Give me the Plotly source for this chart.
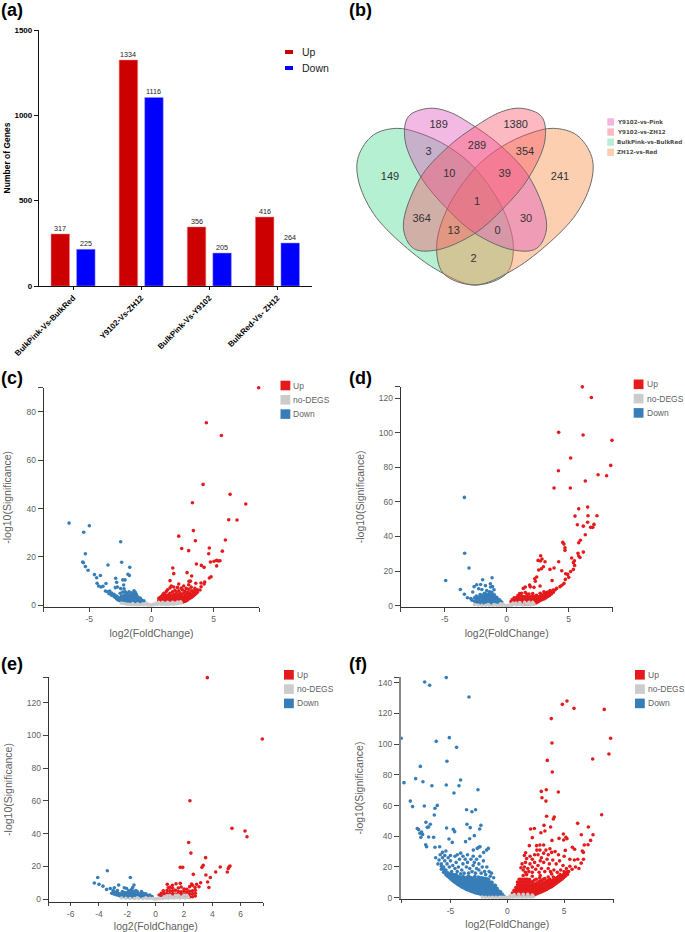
import plotly.graph_objects as go

# ---------- (a) bar chart ----------
bar_categories = ["BulkPink-Vs-BulkRed", "Y9102-Vs-ZH12", "BulkPink-Vs-Y9102", "BulkRed-Vs- ZH12"]
bar_up = [305, 1324, 346, 404]
bar_down = [215, 1105, 193, 252]
bar_up_labels = ["317", "1334", "356", "416"]
bar_down_labels = ["225", "1116", "205", "264"]

# ---------- (b) venn ----------
venn_green_x = [170, 240, 325, 405, 490, 520, 500, 405, 300, 190, 100, 55, 55, 100, 170]
venn_green_y = [385, 400, 440, 505, 630, 740, 820, 855, 815, 735, 640, 540, 470, 405, 385]
venn_orange_x = [640, 570, 485, 405, 320, 290, 310, 405, 510, 620, 710, 755, 755, 710, 640]
venn_orange_y = [385, 400, 440, 505, 630, 740, 820, 855, 815, 735, 640, 540, 470, 405, 385]
venn_pink_x = [265, 325, 405, 485, 570, 620, 590, 520, 405, 320, 245, 195, 205, 265]
venn_pink_y = [325, 335, 380, 440, 535, 680, 745, 750, 700, 625, 535, 420, 350, 325]
venn_rose_x = [545, 485, 405, 325, 240, 190, 220, 290, 405, 490, 565, 615, 605, 545]
venn_rose_y = [325, 335, 380, 440, 535, 680, 745, 750, 700, 625, 535, 420, 350, 325]
venn_numbers = ["189", "1380", "3", "289", "354", "149", "10", "39", "241", "1", "364", "30", "13", "0", "2"]
venn_num_x = [296, 527, 266, 411, 555, 150, 328, 494, 660, 411, 245, 558, 341, 473, 401]
venn_num_y = [375, 375, 457, 438, 456, 531, 524, 523, 532, 606, 657, 657, 695, 695, 777]
venn_names = ["Y9102-vs-Pink", "Y9102-vs-ZH12", "BulkPink-vs-BulkRed", "ZH12-vs-Red"]

# ---------- (c) ----------
c_up = [(8.63,90),(4.42,75.5),(5.63,70.2),(4.16,50),(6.33,45.9),(7.59,41.9),(3.3,42.4),(6.22,35.4),(6.89,35.3),(3.38,30.9),
 (2.2,28.6),(3.54,26.7),(5.95,27),(4.66,23.7),(2.44,23.5),(3.0,22.6),(5.71,22.4),(4.61,21.3),(5.25,18.6),(5.39,18.3),(5.52,18.4),
 (5.04,18.2),(4.75,17.9),(3.62,17.1),(4.02,16.5),(4.24,15.7),(5.25,16.3),(1.72,15.4),(1.8,13.1),(2.87,13.5),(3.24,12.1),(4.8,11.8),
 (4.66,11.3),(1.5,10.2),(3.03,9.9),(3.14,10),(4.29,9.6),(3.99,9.2),(4.24,8.8),(3.57,9.1),(2.2,8.8),(4.0,7.7),(3.91,6.3)]
c_up_cols = {0.6:[2.0,2.9],0.7:[1.9,3.2],0.8:[1.6,2.5,3.6],0.9:[1.4,2.2,3.1,4.2],1.0:[1.2,2.0,2.9,3.8,5.0],1.1:[1.1,1.9,2.7,3.5,4.6],
 1.2:[1.0,1.7,2.4,3.2,5.7],1.3:[1.2,2.1,3.0,3.9,6.4],1.4:[1.0,1.8,2.7,4.4],1.5:[1.3,2.2,3.3,5.0,7.2],1.6:[1.0,1.9,2.8,3.9,8.0],
 1.7:[1.2,2.4,3.4,5.6],1.8:[1.0,1.8,2.9,4.5,7.6],1.9:[1.3,2.2,3.7,6.2],2.0:[1.0,1.9,2.8,4.0,5.3],2.1:[1.2,2.3,3.3,7.4],
 2.2:[1.1,1.8,2.9,4.4,6.0],2.3:[1.3,2.4,3.6,5.2],2.4:[1.2,1.9,3.0,4.6,7.1],2.5:[1.4,2.5,3.5,6.4],2.6:[1.5,2.2,3.2,5.0,8.0],
 2.7:[1.7,2.7,3.9,5.8],2.8:[1.9,2.9,4.4,7.0],2.9:[2.2,3.1,4.0,5.4],3.0:[2.6,3.4,4.8,6.6,8.5],3.1:[2.9,3.7,5.1],3.2:[3.2,4.2,5.9,7.5],
 3.3:[3.6,4.6,6.0],3.4:[4.0,5.0],3.5:[4.5,5.6,7.0],3.6:[4.9,5.9],3.7:[5.4,6.4]}
c_down = [(-6.62,34),(-4.99,32.9),(-5.44,30.2),(-2.47,26.3),(-5.31,21.3),(-5.52,17.9),(-5.47,17.6),(-2.39,17.8),(-3.49,16.7),(-1.74,15.7),
 (-5.31,16),(-5.09,14.5),(-4.58,12.7),(-4.1,12.3),(-4.4,11.4),(-1.88,12.8),(-1.77,12.3),(-2.87,11.2),(-2.3,10.5),(-2.12,10.5),(-2.79,9.5),
 (-4.37,9.1),(-3.65,9),(-2.23,8.4),(-4.24,8),(-4.05,7.6),(-3.89,7.9),(-2.9,7.3),(-2.73,7.6),(-2.47,6.9),(-2.2,6.8),(-3.7,5.9),(-3.55,5.6),(-3.35,5.9),(-3.2,5.1)]
c_down_cols = {-3.4:[4.8],-3.2:[4.2],-3.0:[3.6,4.6],-2.9:[3.2],-2.8:[2.7,3.8],-2.7:[2.3,3.4],-2.6:[2.1,3.0],-2.5:[1.9,2.9,5.0],-2.4:[1.7,2.6,3.8],
 -2.3:[1.5,2.3,3.3,5.5],-2.2:[1.4,2.1,3.0,4.2],-2.1:[1.3,2.0,2.9,3.8,5.6],-2.0:[1.2,1.9,2.7,3.6,5.0],-1.9:[1.1,1.8,2.5,3.3,4.4],
 -1.8:[1.0,1.7,2.4,3.2,4.2,5.6],-1.7:[1.0,1.6,2.3,3.0,4.0],-1.6:[1.0,1.6,2.2,3.0,3.9,5.2],-1.5:[0.9,1.5,2.2,2.9,3.7,4.8],
 -1.4:[0.9,1.5,2.1,2.8,3.6,4.4,6.0],-1.3:[0.9,1.4,2.0,2.7,3.4,4.3,5.4],-1.2:[0.9,1.5,2.1,2.8,3.5,4.4],-1.1:[0.9,1.5,2.1,2.8,3.5],
 -1.0:[0.9,1.5,2.2,2.9],-0.9:[0.9,1.5,2.2,3.0],-0.8:[1.0,1.6,2.3],-0.7:[1.1,1.7],-0.6:[1.3,1.9]}
c_grey_x = [-2.4,-2.2,-2.0,-1.8,-1.6,-1.4,-1.2,-1.0,-0.8,-0.6,-0.5,-0.4,-0.3,-0.2,-0.1,0.0,0.1,0.2,0.3,0.4,0.5,0.6,0.8,1.0,1.2,1.4,1.6,1.8,2.0,2.2,2.4,-1.5,-1.1,-0.7,0.7,1.1,1.5,1.9,0.9,1.3,1.7,2.1,2.35]
c_grey_y = [0.9,0.7,0.5,0.4,0.3,0.3,0.2,0.2,0.2,0.2,0.6,0.9,0.1,0.4,0.1,0.1,0.2,0.5,0.2,0.9,0.4,1.2,0.4,0.5,0.3,0.4,0.5,0.4,0.6,0.8,1.0,0.7,0.6,0.6,0.7,0.8,0.8,0.9,1.2,1.2,1.2,1.3,1.4]

# ---------- (d) ----------
d_up = [(6.1,126.5),(6.83,120.4),(4.19,100.2),(6.16,98.7),(8.49,95.6),(5.16,85.4),(8.39,81.1),(4.17,78),(7.37,75.7),(8.06,75.1),(6.34,72.1),
 (3.82,68),(5.13,68),(6.53,57),(5.81,56),(5.51,51.8),(6.56,52),(7.28,52),(5.7,46.8),(6.53,48.2),(6.18,46),(7.04,47),(6.77,45.3),(6.94,45.3),
 (6.34,41),(5.94,37.8),(5.81,36.4),(4.52,36.6),(4.62,35.6),(4.7,33.5),(4.7,32),(6.18,31),(5.75,30.3),(5.81,28.7),(5.91,27.9),(2.74,28.9),
 (2.53,26.2),(2.72,25.8),(2.85,27),(3.09,25.4),(5.24,27.6),(4.19,25.4),(5.46,26),(5.38,24.9),(5.48,23.3),(5.38,21),(4.44,20.2),(3.49,21),
 (3.82,21.8),(2.8,21.4),(2.58,20.6),(2.96,22.5),(5.16,19.7),(4.76,18.5),(4.92,18.1),(5,16.4),(4.73,15.2),(4.62,12.9),(3.66,14.5),(2.42,16.6),
 (2.26,15.6),(2.31,14.1),(1.85,11.9),(1.5,10.8),(1.34,10),(2.2,10.6),(2.69,11.4),(4.03,10),(4.3,11),(3.9,9.1),(3.0,8.1),(3.5,8.7),(4.45,11.8),(1.9,10.9)]
d_up_cols = {0.35:[2.4],0.45:[2.0,3.6],0.6:[1.8,3.2,4.6],0.75:[1.6,3.0,4.6],0.9:[1.3,2.8,4.3,5.8],1.05:[1.2,2.6,4.0,5.6,7.0],1.2:[1.1,2.6,4.0,5.5,7.2],
 1.35:[1.1,2.5,3.9,5.3],1.5:[1.0,2.4,3.8,5.2,7.6],1.65:[1.0,2.4,3.8,5.0,6.6],1.8:[1.0,2.3,3.6,5.0,6.8],1.95:[1.0,2.3,3.7,5.1],2.1:[1.1,2.4,3.8,5.6,7.0],
 2.25:[1.2,2.6,4.0,5.3],2.4:[1.7,3.0,4.4,6.0],2.55:[2.3,3.7,5.1],2.7:[3.0,4.2,5.6,7.2],2.85:[3.4,4.8,6.2],3.0:[3.9,5.2,6.6],3.15:[4.5,5.9,7.3],
 3.3:[5.2,6.5,7.9],3.45:[5.9,7.2],3.6:[6.8,8.0],3.75:[7.7,9.0]}
d_down = [(-3.41,62.6),(-3.39,30.3),(-3.04,21.8),(-4.92,14.6),(-3.74,9.4),(-3.41,6.6),(-1.94,15),(-1.18,16.2),(-2.63,11),(-2.42,12.1),(-2.1,12.3),
 (-1.72,11.6),(-1.32,12.7),(-2.26,9.8),(-2.74,7.9),(-1.61,8.7),(-1.02,9.2),(-3.17,4.6),(-2.9,4.2),(-1.3,10.8),(-1.15,11),(-2.0,9.4)]
d_down_cols = {-2.8:[3.2],-2.6:[2.6,4.6],-2.45:[2.1,3.8,5.6],-2.3:[1.7,3.2,4.9],-2.15:[1.4,2.9,4.6,6.4],-2.0:[1.2,2.7,4.3,6.0],-1.9:[1.1,2.5,4.0,5.5],
 -1.8:[1.0,2.4,3.8,5.4,7.2],-1.7:[0.9,2.3,3.7,5.2,6.8],-1.6:[0.9,2.2,3.6,5.0,6.6],-1.5:[0.9,2.2,3.6,5.0,6.4],-1.4:[0.9,2.1,3.5,4.9,6.4,8.0],
 -1.3:[0.9,2.1,3.5,4.9,6.3,7.8],-1.2:[0.9,2.1,3.4,4.8,6.2,7.8],-1.1:[0.9,2.1,3.4,4.8,6.2],-1.0:[1.0,2.2,3.5,4.9,6.3],-0.9:[1.0,2.3,3.6,4.9],
 -0.8:[1.1,2.3,3.6,4.8],-0.7:[1.2,2.4,3.6],-0.6:[1.4,2.6,3.5],-0.5:[1.7,2.7],-0.4:[1.9]}
d_grey_x = [-2.6,-2.3,-2.0,-1.7,-1.4,-1.1,-0.8,-0.6,-0.4,-0.3,-0.2,-0.1,0.0,0.1,0.2,0.3,0.4,0.6,0.8,1.0,1.3,1.6,1.9,2.2,-1.5,-1.0,-0.5,0.5,1.1,1.7,2.0,0.75,1.05,1.45,1.8,2.1]
d_grey_y = [0.6,0.4,0.3,0.3,0.2,0.2,0.2,0.2,0.3,0.9,0.3,0.1,0.1,0.1,0.3,0.7,0.3,0.8,0.4,0.7,0.4,0.8,0.5,0.9,0.7,0.7,1.1,1.5,1.2,1.1,0.8,1.6,1.8,1.9,1.9,1.9]

# ---------- (e) ----------
e_up = [(3.65,135.3),(7.53,97.8),(2.42,60.1),(5.39,43.2),(6.31,41.6),(6.45,38.1),(2.33,34.6),(2.49,28.1),(3.53,25.3),(3.36,20.6),(3.27,19.4),
 (5.25,20.2),(5.13,18.7),(5.18,19.6),(4.56,19.6),(1.74,19.4),(1.91,19.4),(4.24,16.5),(5.06,16.5),(2.66,15.1),(3.55,14.7),(3.86,13.2),(3.67,10.4),
 (3.76,7.1),(3.18,10),(2.89,9),(3.06,7.5),(2.78,7.1),(2.54,9.2),(1.74,9.6),(1.44,9.4),(0.82,9),(1.18,8.4),(0.89,6.9),(0.54,5.1)]
e_up_cols = {0.25:[2.5],0.4:[2.2,3.6],0.6:[2.0,3.5],0.8:[1.9,3.4,5.2],1.0:[1.7,3.2,5.0,7.2],1.2:[1.6,3.1,4.8,6.6],1.4:[1.6,3.0,5.4],1.6:[1.5,3.0,4.6,6.8],
 1.8:[1.4,2.9,4.4,7.4],2.0:[1.3,2.8,4.8,6.2],2.2:[1.4,2.8,4.2,6.0],2.4:[1.3,3.0,4.8,7.6],2.6:[1.4,3.2,5.0,8.4],2.8:[1.9,3.6,5.4]}
e_down = [(-3.41,17.3),(-4.09,13.2),(-1.79,13.2),(-4.33,9.8),(-4,9),(-3.72,7.9),(-2.61,8.6),(-3.46,5.9),(-3.2,6.5),(-2.92,6.9),(-2.21,6.9),(-2.05,6.5),
 (-1.53,8.6),(-1.62,7.1),(-2.7,5.2),(-3.0,5.2),(-1.7,5.8),(-1.0,4.6),(-1.4,5.2)]
e_down_cols = {-3.1:[3.6],-2.95:[3.1,4.4],-2.8:[2.7,4.0],-2.65:[2.3,3.6],-2.5:[1.9,3.2],-2.35:[1.6,2.8,4.6],-2.2:[1.4,2.6,4.0],-2.05:[1.3,2.5,3.8],-1.9:[1.2,2.4,3.7,5.0],
 -1.75:[1.2,2.4,3.7,5.2],-1.6:[1.2,2.4,3.6,4.8],-1.45:[1.2,2.3,3.5],-1.3:[1.2,2.3,3.4,4.6],-1.15:[1.2,2.2,3.3],-1.0:[1.2,2.2,3.3],-0.85:[1.2,2.2,3.4],
 -0.7:[1.3,2.2,3.2],-0.55:[1.3,2.3],-0.4:[1.5,2.4],-0.25:[1.6]}
e_grey_x = [-2.4,-2.1,-1.8,-1.5,-1.2,-0.9,-0.6,-0.4,-0.2,-0.1,0.0,0.1,0.2,0.3,0.5,0.7,0.9,1.1,1.3,1.5,1.7,1.9,2.1,2.3,-1.3,-0.7,0.6,1.2,1.8,0.8,1.0,1.4,1.6,2.0,2.2]
e_grey_y = [0.7,0.5,0.4,0.3,0.3,0.2,0.3,0.5,0.4,0.1,0.2,0.1,0.5,0.4,0.4,0.7,0.5,0.8,0.6,0.9,0.6,1.0,0.7,1.0,0.8,0.8,1.4,1.3,1.2,2.0,2.2,2.3,2.3,2.3,2.3]

# ---------- (f) ----------
f_up = [(5.25,128.1),(4.84,125.9),(5.87,123.3),(8.53,122.6),(3.87,116.6),(9.09,103.8),(3.93,100.7),(8.94,93.6),(7.51,90.3),(3.52,89.4),(3.96,81.8),
 (2.99,69.2),(3.43,70.3),(4.49,68.8),(3.05,65.1),(3.4,62.9),(8.3,54),(3.46,53),(4.13,52.5),(4.05,51.2),(6.19,48.4),(3.23,47.1),(7.13,46),(3.81,46),
 (2.05,44.7),(2.38,45.1),(2.96,42.3),(3.31,43.4),(4.93,41.5),(6.51,41),(7.54,41),(2.2,39.1),(5.16,39.3),(4.55,38.6),(5.25,38.4),(7.33,37.3),(3.93,37.3),
 (4.96,37.6),(6.77,34.3),(7.1,34.5),(1.94,33.9),(2.58,33.9),(2.87,34.3),(3.2,34.3),(5.72,32.8),(5.92,31.5),(2.87,31),(3.75,31.9),(5.1,30.8),(6.6,30.4),(6.69,29.5),(1.61,29.3)]
f_up_mid = [(1.5,27.5),(1.7,25.5),(1.3,22),(1.2,19.5),(1.6,23),(2.0,27),(2.2,25),(2.4,28),(2.6,31),(2.7,28),(3.0,26),(3.2,29),(3.4,31),(3.6,28),(3.9,29.5),(4.2,30),(4.5,28),(5.0,27),
 (5.5,25),(5.9,24.5),(6.2,25),(6.5,22.5),(6.7,25),(6.3,19),(6.0,20),(5.5,20.5),(5.2,19),(4.9,21),(4.6,24),(4.3,22),(4.0,24.5),(3.7,22),(3.5,25),(3.2,23),(2.9,24),(2.7,21),
 (2.4,23),(2.2,20),(2.0,22),(1.8,19),(1.5,20),(1.4,18),(1.6,16.5),(1.9,17),(2.2,16.5),(2.5,18.5),(2.8,16.5),(3.0,19),(3.3,17),(3.6,19),(3.8,17),(4.1,18),(4.4,16.5),(4.7,18),(5.0,17),(5.4,17),(5.7,18.5),(3.9,15.5),(2.9,14.5),(2.2,14),(1.4,14.5),(1.7,15)]
f_up_cols = {0.35:[0.9],0.45:[1.5,3.0],0.6:[1.4,3.0,4.8],0.75:[1.3,3.0,4.8,6.6],0.9:[1.3,3.0,4.8,6.6,8.4,10.2],1.05:[1.2,3.0,4.8,6.6,8.4,10.2,12.0],1.2:[1.2,3.0,4.8,6.6,8.4,10.2,12.0],
 1.35:[1.2,3.0,4.8,6.6,8.4,10.2,12.0],1.5:[1.2,3.0,4.8,6.6,8.4,10.2,12.0],1.65:[1.2,3.0,4.8,6.6,8.4,10.2,12.0],1.8:[1.3,3.0,4.8,6.6,8.4,10.2,12.0],1.95:[1.3,3.0,4.8,6.6,8.4,10.2,11.8],
 2.1:[1.4,3.0,4.8,6.6,8.4,10.2],2.25:[1.6,3.0,4.8,6.6,8.4,10.5],2.4:[2.0,3.6,5.2,7.0,8.8,11.5],2.55:[2.4,4.0,5.8,7.6,9.4,12],2.7:[2.9,4.4,6.2,8.0,10.0],2.85:[3.4,5.0,6.8,8.6,10.8,13],
 3.0:[3.8,5.4,7.2,9.0,11],3.15:[4.3,6.0,7.8,9.6,12],3.3:[4.8,6.4,8.2,10.2,12.5],3.45:[5.4,7.0,8.8,10.8],3.6:[6.0,7.6,9.4,11.4,13.5],3.75:[6.6,8.2,10.0,12],3.9:[7.2,9.0,10.8],
 4.05:[8.0,9.8,11.6,13.5],4.2:[8.8,10.4,12.2],4.35:[9.6,11.2,13],4.5:[10.4,12,14],4.65:[11.2,13,15],4.8:[12,13.8],4.95:[13,15],5.1:[14,16],5.3:[15.2,17]}
f_down = [(-5.37,143.3),(-7.27,140.4),(-6.83,138.3),(-3.37,130.7),(-9.33,103.8),(-5.1,104.2),(-6.25,101.8),(-4.46,97.9),(-5.31,88.8),(-7.65,85.5),(-8.06,77.5),(-4.11,76.6),(-7.42,75.5),
 (-9.09,74.9),(-5.37,73.4),(-6.63,72.9),(-4.25,72.9),(-2.58,70.3),(-4.69,68.2),(-8.53,62.9),(-7.3,59.7),(-8.33,59.3),(-6.16,60.1),(-6.36,58.2),(-3.58,57.3),(-2.79,57.3),(-3.11,56),(-6.42,53.8),
 (-7.16,49.1),(-6.77,47.8),(-3.55,47.8),(-2.32,47.1),(-6.92,46),(-7.04,45.8),(-3.26,45.6),(-7.92,45.1),(-7.8,44.3),(-5.34,45.4),(-2.43,44.7),(-4.75,44.5),(-4.63,43),(-7.54,42.8),(-7.68,41.9),
 (-7.45,41.2),(-7.6,39.3),(-6.92,39.5),(-6.48,39.3),(-2.9,40.4),(-3.31,38.4),(-5.13,38.2),(-4.84,36),(-3.67,36.5),(-7.18,34.5),(-7.1,33.2),(-5.95,33.2),(-6.36,32.8),(-2.4,33.2),(-2.64,32.1),
 (-2.52,32.8),(-2.99,31),(-1.67,32.1),(-1.82,31),(-2.08,29.5),(-5.4,30.4)]
f_down_mid = [(-6.3,26),(-6,24.5),(-5.9,28),(-5.8,22),(-5.7,26),(-5.7,29.5),(-5.6,20),(-5.5,24),(-5.5,27.5),(-5.4,18),(-5.3,22),(-5.2,26),(-5.2,16),(-5.1,20),(-5,27.5),(-5,24),(-4.9,17),(-4.8,21),
 (-4.7,15),(-4.6,19),(-4.6,27),(-4.5,23),(-4.4,28),(-4.4,17),(-4.3,20),(-4.2,25),(-4.1,15.5),(-4.1,29),(-4,18),(-3.9,22),(-3.9,27),(-3.8,16),(-3.7,25),(-3.6,20),(-3.5,23),(-3.5,28),(-3.4,16),
 (-3.3,19),(-3.2,25),(-3.1,17),(-3,21),(-3,27),(-2.9,23),(-2.8,16),(-2.7,19),(-2.7,25),(-2.5,18),(-2.5,22),(-2.4,27),(-2.3,16),(-2.2,20),(-2.1,24),(-2,17),(-1.9,15),(-1.8,20),(-1.6,17),(-1.5,14),(-1.4,16),(-1.2,13)]
f_down_cols = {-6.1:[22],-5.8:[18.5,20.5],-5.6:[16.5,18.5],-5.4:[15,17],-5.25:[14,15.8],-5.1:[13,14.8],-4.95:[12,13.8,15.6],-4.8:[11,12.8,14.6],-4.65:[10.2,12,13.8],-4.5:[9.4,11.2,13,15],
 -4.35:[8.6,10.4,12.2,14],-4.2:[8,9.8,11.6,13.4],-4.05:[7.2,9,10.8,12.6],-3.9:[6.6,8.4,10.2,12,14],-3.75:[6,7.8,9.6,11.4,13.2],-3.6:[5.4,7.2,9,10.8,12.6],-3.45:[5,6.8,8.6,10.4,12.2,14],
 -3.3:[4.5,6.3,8.1,9.9,11.7,13.5],-3.15:[4.1,5.9,7.7,9.5,11.3,13],-3.0:[3.7,5.5,7.3,9.1,10.9,12.7],-2.85:[3.3,5.1,6.9,8.7,10.5,12.3,14],-2.7:[3,4.8,6.6,8.4,10.2,12],-2.55:[2.7,4.5,6.3,8.1,9.9,11.7,13.5],
 -2.4:[2.4,4.2,6,7.8,9.6,11.4,13],-2.25:[2.1,3.9,5.7,7.5,9.3,11.1,12.9],-2.1:[1.9,3.7,5.5,7.3,9.1,10.9,12.7],-1.95:[1.7,3.5,5.3,7.1,8.9,10.7,12.5],-1.8:[1.5,3.3,5.1,6.9,8.7,10.5,12.3],
 -1.65:[1.4,3.2,5,6.8,8.6,10.4,12],-1.5:[1.2,3,4.8,6.6,8.4,10.2],-1.35:[1.1,2.9,4.7,6.5,8.3,10],-1.2:[1,2.8,4.6,6.4,8.2],-1.05:[1,2.8,4.6,6.4,8],-0.9:[1,2.8,4.6,6.2],-0.75:[1,2.8,4.4],-0.6:[1,2.6,3.8],-0.45:[1,2.4],-0.3:[1]}
f_grey_x = [-2.2,-1.9,-1.6,-1.3,-1.0,-0.7,-0.5,-0.3,-0.1,0.0,0.1,0.3,0.5,0.7,0.9,1.1,1.3,1.5,1.7,1.9,2.1,2.3,0.2,0.4,0.6,1.0,1.4,1.8,2.2]
f_grey_y = [0.4,0.3,0.3,0.2,0.2,0.2,0.2,0.2,0.1,0.1,0.1,0.4,0.4,0.6,0.5,0.6,0.4,0.6,0.4,0.6,0.5,0.8,1.0,1.4,2.0,2.2,2.2,2.2,1.8]

W, H = 685, 932
RED, GREY, BLUE = "#E41A1C", "#CCCCCC", "#377EB8"
TXT = "#5f5f5f"


def pts(pairs, cols=None, mid=None):
    rows = list(pairs) + list(mid or [])
    for x, ys in (cols or {}).items():
        rows += [(x, y) for y in ys]
    return [r[0] for r in rows], [r[1] for r in rows]


def dx(a, b):
    return [a / W, b / W]


def dy(top, bottom):
    return [1 - bottom / H, 1 - top / H]


fig = go.Figure()
shapes, anns = [], []


def label(text, x, y, size, color="#000", bold=False, xanchor="left", family="Liberation Sans"):
    anns.append(dict(text=f"<b>{text}</b>" if bold else text, xref="paper", yref="paper", x=x / W, y=1 - y / H,
                     xanchor=xanchor, yanchor="middle", showarrow=False, font=dict(size=size, color=color, family=family),
                     borderpad=0, borderwidth=0))


def swatch(x0, y0, x1, y1, color):
    shapes.append(dict(type="rect", xref="paper", yref="paper", x0=x0 / W, x1=x1 / W, y0=1 - y0 / H, y1=1 - y1 / H,
                       fillcolor=color, line=dict(width=0), layer="above"))


# (a)
fig.add_trace(go.Bar(x=bar_categories, y=bar_up, marker=dict(color="#CC0000", line=dict(color="#EE8888", width=0.5)),
                     showlegend=False, xaxis="x", yaxis="y", name="Up"))
fig.add_trace(go.Bar(x=bar_categories, y=bar_down, marker=dict(color="#0000FF", line=dict(color="#9999FF", width=0.5)),
                     showlegend=False, xaxis="x", yaxis="y", name="Down"))
for i, cat in enumerate(bar_categories):
    for vals, labs, shift in [(bar_up, bar_up_labels, -12.75), (bar_down, bar_down_labels, 12.75)]:
        anns.append(dict(text=labs[i], xref="x", yref="y", x=cat, y=vals[i], xshift=shift, yshift=5.5, xanchor="center", yanchor="middle",
                         showarrow=False, font=dict(size=7.2, color="#222", family="Liberation Sans")))

# (b)
venn_loops = [(venn_green_x, venn_green_y, "rgba(60,215,140,0.38)"), (venn_orange_x, venn_orange_y, "rgba(248,140,70,0.42)"),
              (venn_pink_x, venn_pink_y, "rgba(225,80,190,0.40)"), (venn_rose_x, venn_rose_y, "rgba(250,80,100,0.40)")]
for vx, vy, col in venn_loops:
    fig.add_trace(go.Scatter(x=vx, y=vy, mode="lines", fill="toself", fillcolor=col, line=dict(color="#6b6b6b", width=1, shape="spline", smoothing=1.0),
                             xaxis="x2", yaxis="y2", showlegend=False, hoverinfo="skip"))
fig.add_trace(go.Scatter(x=venn_num_x, y=venn_num_y, mode="text", text=venn_numbers, textposition="middle center",
                         textfont=dict(size=11, color="#333", family="Liberation Sans"), xaxis="x2", yaxis="y2", showlegend=False))

# volcano panels
panels = [
    dict(ax="3", up=pts(c_up, c_up_cols), down=pts(c_down, c_down_cols), grey=(c_grey_x, c_grey_y), box=(43.7, 259.3, 387.7, 607),
         xr=[-8.66, 8.68], yr=[-0.7, 90], xt=[-5, 0, 5], yt=[0, 20, 40, 60, 80], leg=(280.5, 380.7, 293.3)),
    dict(ax="4", up=pts(d_up, d_up_cols), down=pts(d_down, d_down_cols), grey=(d_grey_x, d_grey_y), box=(400.7, 612.7, 386.7, 607),
         xr=[-8.55, 8.55], yr=[-0.75, 126.6], xt=[-5, 0, 5], yt=[0, 20, 40, 60, 80, 100, 120], leg=(633.7, 379.5, 646.7)),
    dict(ax="5", up=pts(e_up, e_up_cols), down=pts(e_down, e_down_cols), grey=(e_grey_x, e_grey_y), box=(48.7, 263, 677.3, 901.7),
         xr=[-7.55, 7.58], yr=[-1.6, 135.5], xt=[-6, -4, -2, 0, 2, 4, 6], yt=[0, 20, 40, 60, 80, 100, 120], leg=(284, 670, 297.3)),
    dict(ax="6", up=pts(f_up, f_up_cols, f_up_mid), down=pts(f_down, f_down_cols, f_down_mid), grey=(f_grey_x, f_grey_y), box=(401, 613.7, 677.3, 898.7),
         xr=[-9.35, 9.36], yr=[-0.65, 143.5], xt=[-5, 0, 5], yt=[0, 20, 40, 60, 80, 100, 120, 140], leg=(635, 670, 648.3)),
]
layout_axes = {}
for p in panels:
    a = p["ax"]
    for (xs, ys), col, nm in [(p["up"], RED, "Up"), (p["down"], BLUE, "Down"), (p["grey"], GREY, "no-DEGS")]:
        fig.add_trace(go.Scatter(x=xs, y=ys, mode="markers", name=nm, marker=dict(color=col, size=3.6, line=dict(width=0)),
                                 xaxis="x" + a, yaxis="y" + a, showlegend=False, cliponaxis=False))
    x0, x1, y0, y1 = p["box"]
    xtv = [p["xr"][0]] + p["xt"] + [p["xr"][1]]
    ytv = p["yt"] + [p["yr"][1]]
    layout_axes["xaxis" + a] = dict(domain=dx(x0, x1), range=p["xr"], anchor="y" + a, tickvals=xtv, ticktext=[""] + [str(v) for v in p["xt"]] + [""], automargin=False,
                                    showgrid=False, zeroline=False, showline=True, linecolor="#333", linewidth=1.2, ticks="outside", ticklen=3.5, tickwidth=1, tickcolor="#444",
                                    tickfont=dict(size=8.5, color=TXT, family="Liberation Sans"),
                                    title=dict(text="log2(FoldChange)", font=dict(size=10.5, color=TXT, family="Liberation Sans"), standoff=6))
    layout_axes["yaxis" + a] = dict(domain=dy(y0, y1), range=p["yr"], anchor="x" + a, tickvals=ytv, ticktext=[str(v) for v in p["yt"]] + [""], automargin=False,
                                    showgrid=False, zeroline=False, showline=True, linecolor="#888" if a == "6" else "#333", linewidth=2 if a == "6" else 1.2,
                                    ticks="outside", ticklen=5, tickwidth=1, tickcolor="#444",
                                    tickfont=dict(size=8.5, color=TXT, family="Liberation Sans"),
                                    title=dict(text="-log10(Significance)", font=dict(size=10.5, color=TXT, family="Liberation Sans"), standoff=12))
    sx, sy, tx = p["leg"]
    for i, (nm, col) in enumerate([("Up", RED), ("no-DEGS", GREY), ("Down", BLUE)]):
        top = sy + i * 14.3
        swatch(sx, top, sx + 9.8, top + 9.6, col)
        label(nm, tx, top + 4.8, 8.5, TXT)

# (a) legend
swatch(285, 50, 293, 54, "#CC0000")
swatch(285, 66, 293, 70, "#0000FF")
label("Up", 301.7, 52.5, 10.5, "#222")
label("Down", 301.7, 68.5, 10.5, "#222")

# (b) legend
for i, (nm, col) in enumerate(zip(venn_names, ["#F1B5E0", "#FDB8C0", "#B5EFD7", "#FCCDAE"])):
    top = 118.3 + i * 10.1
    swatch(607.3, top, 614, top + 7.3, col)
    label(nm, 616.7, top + 3.7, 5.6, "#4d4d4d", bold=True, family="DejaVu Sans")

# panel letters
for t, x, y in [("(a)", 1, 10), ("(b)", 349, 10), ("(c)", 1, 378), ("(d)", 349, 378), ("(e)", 1, 664), ("(f)", 349, 664)]:
    label(t, x, y, 18, "#000", bold=True)

fig.update_layout(
    width=W, height=H, margin=dict(l=0, r=0, t=0, b=0), autosize=False, paper_bgcolor="white", plot_bgcolor="rgba(0,0,0,0)",
    barmode="group", bargap=0.25, bargroupgap=0.275, showlegend=False, shapes=shapes, annotations=anns,
    xaxis=dict(domain=dx(39, 311.5), anchor="y", type="category", categoryorder="array", categoryarray=bar_categories, range=[-0.5, 3.5], tickangle=-45, automargin=False,
               showline=True, linecolor="#111", linewidth=1.3, ticks="outside", ticklen=3, tickwidth=1.2, tickcolor="#111", showgrid=False,
               tickfont=dict(size=8, color="#000", family="Liberation Sans", weight="bold")),
    yaxis=dict(domain=dy(30, 286), anchor="x", range=[0, 1500], tickvals=[0, 500, 1000, 1500], showline=True, linecolor="#111", linewidth=1.3, ticks="outside", ticklen=4, automargin=False,
               tickwidth=1.2, tickcolor="#111", showgrid=False, zeroline=False, tickfont=dict(size=8, color="#000", family="Liberation Sans", weight="bold"),
               title=dict(text="<b>Number of Genes</b>", font=dict(size=8.5, color="#000", family="Liberation Sans"), standoff=2)),
    xaxis2=dict(domain=dx(340, 685), range=[0, 1035], visible=False, anchor="y2"),
    yaxis2=dict(domain=dy(0, 310), range=[930, 0], visible=False, anchor="x2"),
    **layout_axes,
)
fig.write_html("out.html", post_script="document.body.style.margin='0';", config={"displayModeBar": False})
